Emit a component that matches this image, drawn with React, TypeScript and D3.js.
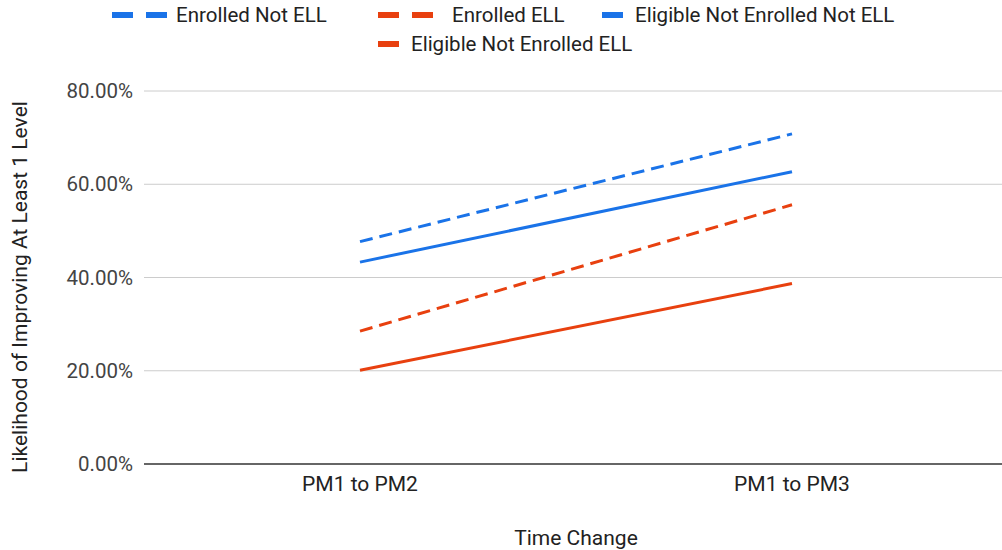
import React from "react";
import * as d3 from "d3";

const categories = ["PM1 to PM2", "PM1 to PM3"];
const enrolledNotELL = [47.7, 70.8];
const enrolledELL = [28.5, 55.6];
const eligibleNotEnrolledNotELL = [43.3, 62.7];
const eligibleNotEnrolledELL = [20.1, 38.7];
const yTicks = [0, 20, 40, 60, 80];

const BLUE = "#1a73e8";
const RED = "#e8400f";

const series = [
  { name: "Enrolled Not ELL", values: enrolledNotELL, color: BLUE, dashed: true },
  { name: "Enrolled ELL", values: enrolledELL, color: RED, dashed: true },
  { name: "Eligible Not Enrolled Not ELL", values: eligibleNotEnrolledNotELL, color: BLUE, dashed: false },
  { name: "Eligible Not Enrolled ELL", values: eligibleNotEnrolledELL, color: RED, dashed: false },
];

export default function App() {
  const W = 1002, H = 550;
  const left = 144, right = 1008, top = 91, bottom = 464;
  const x = d3.scaleBand().domain(categories).range([left, right]);
  const y = d3.scaleLinear().domain([0, 80]).range([bottom, top]);
  const line = d3
    .line<number>()
    .x((_, i) => (x(categories[i]) as number) + x.bandwidth() / 2)
    .y((d) => y(d));
  const font = "Roboto, 'Noto Sans', sans-serif";
  const FS = 20.5;

  const legendRow1 = [
    { s: series[0], ix: 112, tx: 176 },
    { s: series[1], ix: 378, tx: 452 },
    { s: series[2], ix: 602, tx: 635 },
  ];
  const legendRow2 = [{ s: series[3], ix: 378, tx: 411 }];

  const legendIcon = (s: typeof series[0], ix: number, cy: number) =>
    s.dashed ? (
      <g>
        <rect x={ix} y={cy - 3} width={21} height={6} fill={s.color} />
        <rect x={ix + 34} y={cy - 3} width={21} height={6} fill={s.color} />
      </g>
    ) : (
      <rect x={ix} y={cy - 3} width={21} height={6} fill={s.color} />
    );

  return (
    <svg width={W} height={H} style={{ position: "absolute", left: 0, top: 0, background: "#fff" }}>
      <rect width={W} height={H} fill="#fff" />
      {yTicks.map((t) => (
        <g key={t}>
          <line
            x1={left}
            x2={W}
            y1={y(t)}
            y2={y(t)}
            stroke={t === 0 ? "#333" : "#ccc"}
            strokeWidth={t === 0 ? 1.5 : 1}
          />
          <text x={133} y={y(t)} dy="0.35em" textAnchor="end" fontFamily={font} fontSize={FS} fill="#444">
            {t.toFixed(2) + "%"}
          </text>
        </g>
      ))}
      {categories.map((c) => (
        <text
          key={c}
          x={(x(c) as number) + x.bandwidth() / 2}
          y={491}
          textAnchor="middle"
          fontFamily={font}
          fontSize={21}
          fill="#222"
        >
          {c}
        </text>
      ))}
      {series.map((s) => (
        <path
          key={s.name}
          d={line(s.values) || ""}
          fill="none"
          stroke={s.color}
          strokeWidth={3}
          strokeDasharray={s.dashed ? "13,7" : undefined}
        />
      ))}
      <text x={576} y={545} textAnchor="middle" fontFamily={font} fontSize={21} fill="#222">
        Time Change
      </text>
      <text
        transform="translate(27,287) rotate(-90)"
        textAnchor="middle"
        fontFamily={font}
        fontSize={21}
        fill="#222"
      >
        Likelihood of Improving At Least 1 Level
      </text>
      {legendRow1.map(({ s, ix, tx }) => (
        <g key={s.name}>
          {legendIcon(s, ix, 15)}
          <text x={tx} y={15} dy="0.35em" fontFamily={font} fontSize={FS} fill="#222">
            {s.name}
          </text>
        </g>
      ))}
      {legendRow2.map(({ s, ix, tx }) => (
        <g key={s.name}>
          {legendIcon(s, ix, 44)}
          <text x={tx} y={44} dy="0.35em" fontFamily={font} fontSize={FS} fill="#222">
            {s.name}
          </text>
        </g>
      ))}
    </svg>
  );
}
